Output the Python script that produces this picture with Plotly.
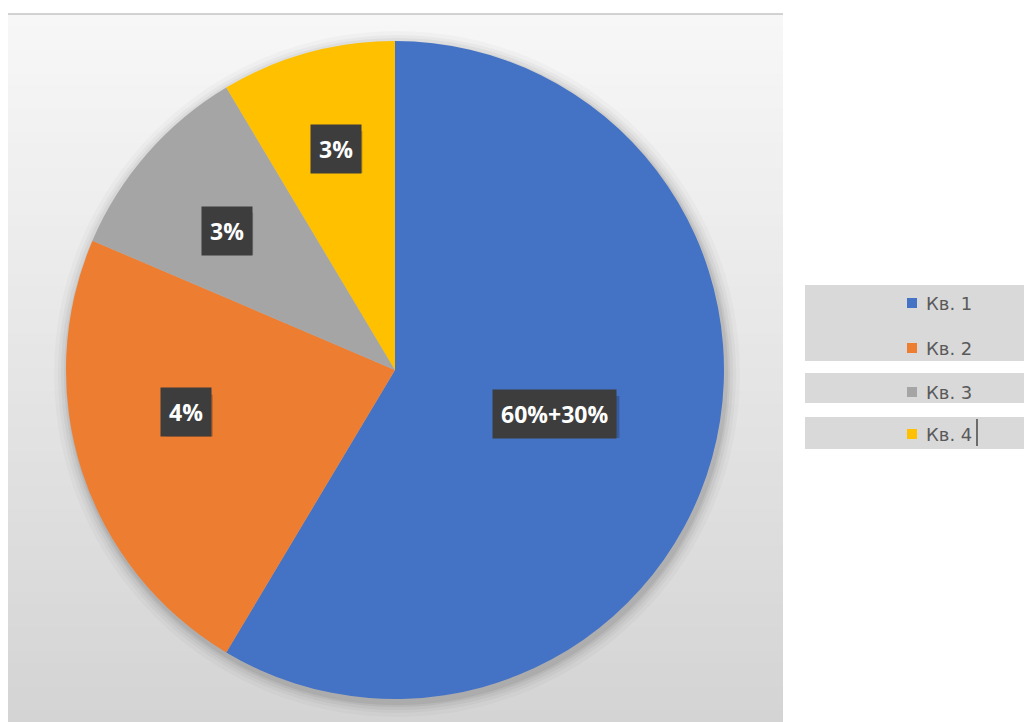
import math
import plotly.graph_objects as go

# Quarterly sales shares
labels = ["Кв. 1", "Кв. 2", "Кв. 3", "Кв. 4"]
values = [8.2, 3.2, 1.4, 1.2]
slice_text = ["60%+30%", "4%", "3%", "3%"]
colors = ["#4472C4", "#ED7D31", "#A5A5A5", "#FFC000"]

W, H = 1024, 722


def px(x):
    return x / W


def py(y):
    return 1 - y / H


# pie geometry (pixels)
cx, cy, r = 395, 370, 329
# label placement: fraction of radius and angular nudge (degrees) per slice
label_radius = [0.503, 0.647, 0.664, 0.695]
label_nudge = [0.0, 6.5, -1.5, 0.5]

fig = go.Figure()
fig.add_trace(go.Pie(
    labels=labels,
    values=values,
    sort=False,
    direction="clockwise",
    rotation=0,
    marker=dict(colors=colors, line=dict(width=0)),
    textinfo="none",
    hoverinfo="label+value",
    showlegend=False,
    domain=dict(x=[px(cx - r), px(cx + r)], y=[py(cy + r), py(cy - r)]),
))

shapes = []

# chart area: vertical grey gradient
top, bottom, left, right = 14, 722, 8, 783
n = 60
c0, c1 = (247, 247, 247), (212, 212, 212)
for i in range(n):
    t = i / (n - 1)
    col = tuple(round(c0[k] + (c1[k] - c0[k]) * t) for k in range(3))
    y0 = top + (bottom - top) * i / n
    y1 = top + (bottom - top) * (i + 1) / n + 1
    shapes.append(dict(type="rect", xref="paper", yref="paper", layer="below",
                       x0=px(left), x1=px(right), y0=py(y1), y1=py(y0),
                       fillcolor="rgb(%d,%d,%d)" % col, line=dict(width=0)))
# top border of the chart area
shapes.append(dict(type="line", xref="paper", yref="paper", layer="below",
                   x0=px(left), x1=px(right), y0=py(top), y1=py(top),
                   line=dict(color="#c4c4c4", width=1.5)))

# soft shadow around the pie
for k, a in [(14, 0.025), (10, 0.03), (7, 0.04), (4, 0.05), (2, 0.06)]:
    shapes.append(dict(type="circle", xref="paper", yref="paper", layer="below",
                       x0=px(cx - r - k + 2), x1=px(cx + r + k + 2),
                       y0=py(cy + r + k + 4), y1=py(cy - r - k + 4),
                       fillcolor="rgba(0,0,0,%g)" % a, line=dict(width=0)))

annotations = []
total = sum(values)
cum = 0.0
for v, txt, rr, nudge in zip(values, slice_text, label_radius, label_nudge):
    theta = 2 * math.pi * (cum + v / 2) / total + math.radians(nudge)
    cum += v
    lx = cx + rr * r * math.sin(theta)
    ly = cy - rr * r * math.cos(theta)
    # drop shadow behind the label box (approximate box size from text length)
    bw = 16 + 15.4 * len(txt)
    bh = 42
    shapes.append(dict(type="rect", xref="paper", yref="paper",
                       x0=px(lx - bw / 2 + 3), x1=px(lx + bw / 2 + 3),
                       y0=py(ly + bh / 2 + 3), y1=py(ly - bh / 2 + 3),
                       fillcolor="rgba(0,0,0,0.2)", line=dict(width=0)))
    annotations.append(dict(x=px(lx), y=py(ly), xref="paper", yref="paper",
                            xanchor="center", yanchor="middle",
                            text="<b>%s</b>" % txt, showarrow=False,
                            font=dict(family="Open Sans", size=23, color="white"),
                            bgcolor="#3d3d3d", borderpad=8))

# legend: grey bands with coloured square markers
bands = [(285, 361), (373, 403), (417, 449)]
for y0, y1 in bands:
    shapes.append(dict(type="rect", xref="paper", yref="paper",
                       x0=px(805), x1=px(1024), y0=py(y1), y1=py(y0),
                       fillcolor="#d9d9d9", line=dict(width=0)))
item_y = [303, 348, 392, 434]
for lab, col, yy in zip(labels, colors, item_y):
    shapes.append(dict(type="rect", xref="paper", yref="paper",
                       x0=px(907), x1=px(917), y0=py(yy + 5), y1=py(yy - 5),
                       fillcolor=col, line=dict(width=0)))
    annotations.append(dict(x=px(924), y=py(yy), xref="paper", yref="paper",
                            xanchor="left", yanchor="middle", text=lab, showarrow=False,
                            font=dict(family="DejaVu Sans", size=18, color="#595959")))
# text cursor after the last legend entry
shapes.append(dict(type="line", xref="paper", yref="paper",
                   x0=px(977), x1=px(977), y0=py(446), y1=py(419),
                   line=dict(color="#222222", width=1.2)))

fig.update_layout(
    width=W, height=H,
    margin=dict(l=0, r=0, t=0, b=0),
    paper_bgcolor="white",
    plot_bgcolor="white",
    shapes=shapes,
    annotations=annotations,
)

fig.write_html("out.html")
